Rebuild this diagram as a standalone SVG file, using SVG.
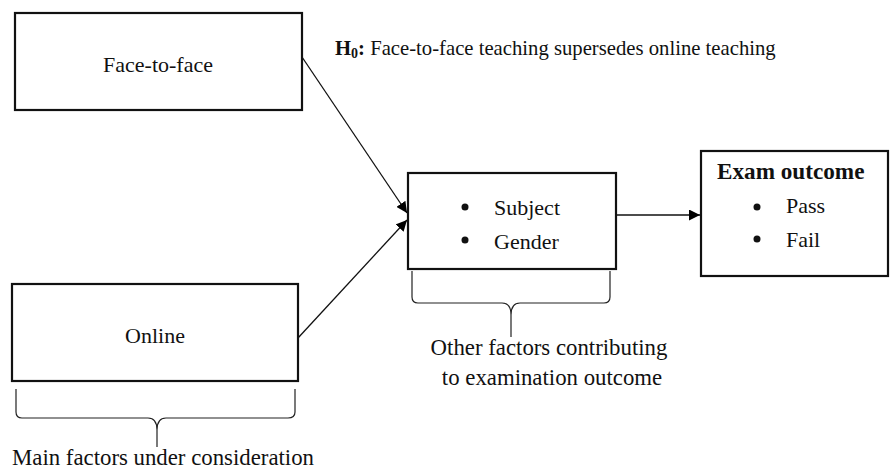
<svg xmlns="http://www.w3.org/2000/svg" width="891" height="471" viewBox="0 0 891 471">
<defs>
<marker id="arr" viewBox="0 0 10 10" refX="10" refY="5" markerWidth="11" markerHeight="11" markerUnits="userSpaceOnUse" orient="auto">
<path d="M0,0 L10,5 L0,10 z" fill="#000"/>
</marker>
<style>
text{font-family:"Liberation Serif","Times New Roman",serif;font-size:22px;fill:#111}
.box{fill:#fff;stroke:#111;stroke-width:2.2}
.ln{fill:none;stroke:#111;stroke-width:1.3}
.br{fill:none;stroke:#222;stroke-width:1.2}
.b{font-weight:bold}
.lbl{font-size:22.8px}
.hyp{font-size:20.7px}
.sub{font-size:14px}
.ttl{font-size:23.2px}
</style>
</defs>
<rect width="891" height="471" fill="#fff"/>
<g font-family="Liberation Serif, serif">
<g id="connectors">
<line class="ln" x1="302" y1="57" x2="407" y2="213" marker-end="url(#arr)"/>
<line class="ln" x1="298" y1="338" x2="407" y2="220" marker-end="url(#arr)"/>
<line class="ln" x1="616" y1="215" x2="700" y2="215" marker-end="url(#arr)"/>
</g>
<g id="face">
<rect class="box" x="15" y="13" width="287" height="97"/>
<text x="158" y="72" text-anchor="middle">Face-to-face</text>
</g>
<g id="online">
<rect class="box" x="12" y="284" width="286" height="97"/>
<text x="155" y="343" text-anchor="middle">Online</text>
</g>
<g id="hypothesis">
<text x="335" y="55" class="hyp"><tspan class="b">H<tspan class="sub" dy="3">0</tspan><tspan dy="-3">:</tspan></tspan> Face-to-face teaching supersedes online teaching</text>
</g>
<g id="other">
<rect class="box" x="408" y="173" width="208" height="96"/>
<circle cx="465" cy="207" r="3.5" fill="#111"/>
<circle cx="465" cy="240" r="3.5" fill="#111"/>
<text x="494" y="215">Subject</text>
<text x="494" y="249">Gender</text>
</g>
<g id="exam">
<rect class="box" x="701" y="151" width="187" height="125"/>
<text x="717" y="179" class="b ttl">Exam outcome</text>
<circle cx="757" cy="207" r="3.5" fill="#111"/>
<circle cx="757" cy="239" r="3.5" fill="#111"/>
<text x="786" y="213">Pass</text>
<text x="786" y="247">Fail</text>
</g>
<g id="brace-main">
<path class="br" d="M16,389 L16,412 Q16,418 22,418 L148,418 Q157,418 157,430 L157,447 M157,430 Q157,418 166,418 L288,418 Q295,418 295,412 L295,389"/>
<text x="163" y="465" text-anchor="middle" class="lbl">Main factors under consideration</text>
</g>
<g id="brace-other">
<path class="br" d="M412,271 L412,297 Q412,303 418,303 L502,303 Q511,303 511,315 L511,337 M511,315 Q511,303 520,303 L604,303 Q610,303 610,297 L610,271"/>
<text x="549" y="355" text-anchor="middle" class="lbl">Other factors contributing</text>
<text x="552" y="385" text-anchor="middle" class="lbl">to examination outcome</text>
</g>
</g>
</svg>
